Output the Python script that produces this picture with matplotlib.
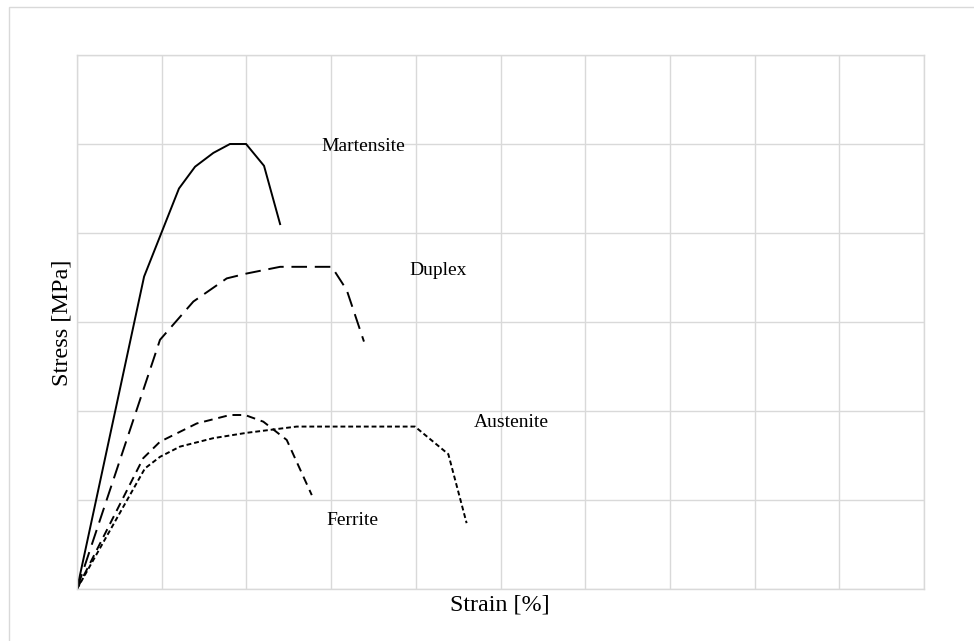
import matplotlib
matplotlib.use("Agg")
import matplotlib.pyplot as plt
from matplotlib.patches import Rectangle

plt.rcParams['font.family'] = ['Liberation Serif', 'DejaVu Serif']

# Engineering stress-strain curves of stainless steel families
martensite_strain = [0, 3.96, 6.02, 6.97, 8.05, 9.03, 9.98, 11.04, 11.99]
martensite_stress = [0, 702, 900, 949, 980, 1000, 1000, 951, 820]

duplex_strain = [0, 4.9, 6.87, 8.84, 10.02, 11.99, 15.04, 15.92, 16.94]
duplex_stress = [0, 560, 646, 698, 709, 724, 724, 672, 556]

ferrite_strain = [0, 3.91, 4.9, 7.07, 9.03, 9.92, 11.0, 12.38, 13.86]
ferrite_stress = [0, 294, 331, 372, 391, 391, 376, 335, 211]

austenite_strain = [0, 4.01, 4.9, 6.08, 8.05, 10.02, 12.97, 19.95, 21.92, 23.0]
austenite_stress = [0, 271, 297, 320, 339, 351, 365, 365, 303, 148]

labels = ["Martensite", "Duplex", "Austenite", "Ferrite"]
label_pos = [(14.45, 995), (19.6, 715), (23.4, 375), (14.75, 155)]

fig = plt.figure(figsize=(9.74, 6.41), dpi=100)
ax = fig.add_axes([77 / 974, 1 - 589 / 641, 847 / 974, 534 / 641])

lw = 1.4
ax.plot(martensite_strain, martensite_stress, color='black', lw=lw, solid_joinstyle='miter')
ax.plot(duplex_strain, duplex_stress, color='black', lw=lw, dashes=(8, 4))
ax.plot(ferrite_strain, ferrite_stress, color='black', lw=lw, dashes=(4.5, 3))
ax.plot(austenite_strain, austenite_stress, color='black', lw=lw, dashes=(2.5, 1.5))

for text, (x, y) in zip(labels, label_pos):
    ax.text(x, y, text, ha='left', va='center', fontsize=14)

ax.set_xlim(0, 50)
ax.set_ylim(0, 1200)
ax.set_xticks(range(0, 51, 5))
ax.set_yticks(range(0, 1201, 200))
ax.tick_params(length=0, labelbottom=False, labelleft=False)
ax.grid(True, color='#d9d9d9', lw=1)
ax.set_axisbelow(True)
for s in ax.spines.values():
    s.set_color('#d9d9d9')
    s.set_linewidth(1)

fig.text(500 / 974, 1 - 605 / 641, "Strain [%]", ha='center', va='center', fontsize=17.3)
fig.text(62 / 974, 1 - 323 / 641, "Stress [MPa]", ha='center', va='center',
         rotation=90, fontsize=17.5)

# Light frame around the chart area
fig.patches.append(Rectangle((9 / 974, -0.05), 1.1, 1 - 7 / 641 + 0.05,
                             transform=fig.transFigure, fill=False,
                             edgecolor='#d9d9d9', lw=1))

fig.savefig("out.png", dpi=100)
